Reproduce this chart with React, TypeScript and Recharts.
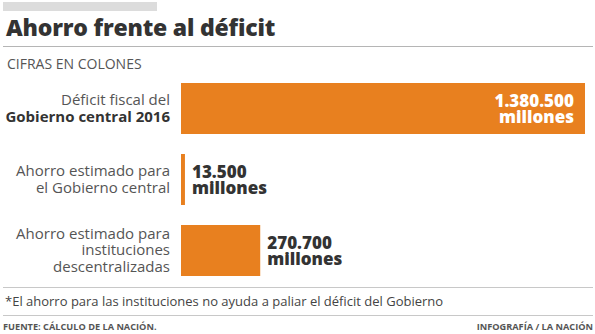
import { Bar, BarChart, Cell, LabelList, XAxis, YAxis } from 'recharts';

const categories = ['deficit', 'ahorroGobierno', 'ahorroInstituciones'];
const values = [1380500, 13500, 270700];
const valueLabels = ['1.380.500', '13.500', '270.700'];
const categoryLines = [
  ['Déficit fiscal del', 'Gobierno central 2016'],
  ['Ahorro estimado para', 'el Gobierno central'],
  ['Ahorro estimado para', 'instituciones', 'descentralizadas'],
];
const boldLines = [[false, true], [false, false], [false, false, false]];

const FONT = '"Open Sans", "DejaVu Sans", sans-serif';
const ORANGE = '#E8801F';
const DARK = '#333333';

const data = categories.map((key, i) => ({
  key,
  value: values[i],
  label: valueLabels[i],
}));

function CategoryTick({ x, y, payload }: any) {
  const idx = categories.indexOf(payload.value);
  const lines = categoryLines[idx] ?? [];
  const start = -3.5 - (lines.length - 2) * 8.25;
  return (
    <g>
      {lines.map((line, i) => (
        <text
          key={line}
          x={x}
          y={y + start + i * 16.5}
          textAnchor="end"
          fontFamily={FONT}
          fontSize={15}
          fontWeight={boldLines[idx][i] ? 700 : 400}
          fill={boldLines[idx][i] ? DARK : '#555'}
        >
          {line}
        </text>
      ))}
    </g>
  );
}

function ValueLabel(props: any) {
  const { x, y, width, height, index } = props;
  const item = data[index];
  const inside = index === 0;
  const tx = inside ? x + width - 11 : x + width + 7;
  const cy = y + height / 2;
  return (
    <text
      x={tx}
      y={cy - 2}
      textAnchor={inside ? 'end' : 'start'}
      fontFamily={FONT}
      fontSize={17}
      fontWeight={800}
      fill={inside ? '#fff' : DARK}
    >
      <tspan x={tx} dy={0}>
        {item.label}
      </tspan>
      <tspan x={tx} dy={16}>
        millones
      </tspan>
    </text>
  );
}

export default function App() {
  return (
    <div
      style={{
        position: 'absolute',
        left: 0,
        top: 0,
        width: 595,
        height: 334,
        background: '#fff',
        fontFamily: FONT,
        overflow: 'hidden',
      }}
    >
      <div
        style={{
          position: 'absolute',
          left: 3,
          top: 2,
          width: 154,
          height: 9,
          background: '#dcdcdc',
        }}
      />
      <div
        style={{
          position: 'absolute',
          left: 6,
          top: 12,
          fontSize: 23,
          lineHeight: '31px',
          fontWeight: 800,
          color: DARK,
          letterSpacing: -0.2,
          whiteSpace: 'nowrap',
        }}
      >
        Ahorro frente al déficit
      </div>
      <div
        style={{
          position: 'absolute',
          left: 3,
          top: 46,
          width: 590,
          height: 1,
          background: '#b5b5b5',
        }}
      />
      <div
        style={{
          position: 'absolute',
          left: 7,
          top: 54,
          fontSize: 14,
          color: '#555',
          whiteSpace: 'nowrap',
        }}
      >
        CIFRAS EN COLONES
      </div>

      <div style={{ position: 'absolute', left: 0, top: 73 }}>
        <BarChart
          width={595}
          height={213}
          data={data}
          layout="vertical"
          margin={{ top: 0, right: 10, bottom: 0, left: 0 }}
          barCategoryGap={10}
        >
          <XAxis type="number" hide domain={[0, 1380500]} />
          <YAxis
            type="category"
            dataKey="key"
            width={181}
            axisLine={false}
            tickLine={false}
            tickMargin={5}
            tick={<CategoryTick />}
            interval={0}
          />
          <Bar dataKey="value" barSize={51} isAnimationActive={false}>
            {data.map((d) => (
              <Cell key={d.key} fill={ORANGE} />
            ))}
            <LabelList dataKey="value" content={<ValueLabel />} />
          </Bar>
        </BarChart>
      </div>

      <div
        style={{
          position: 'absolute',
          left: 3,
          top: 287,
          width: 590,
          height: 1,
          background: '#c8c8c8',
        }}
      />
      <div
        style={{
          position: 'absolute',
          left: 5,
          top: 292,
          fontSize: 13,
          color: '#444',
          whiteSpace: 'nowrap',
        }}
      >
        *El ahorro para las instituciones no ayuda a paliar el déficit del Gobierno
      </div>
      <div
        style={{
          position: 'absolute',
          left: 3,
          top: 315,
          width: 590,
          height: 1,
          background: '#c8c8c8',
        }}
      />
      <div
        style={{
          position: 'absolute',
          left: 3,
          top: 320,
          fontSize: 9.2,
          fontWeight: 700,
          color: '#555',
          whiteSpace: 'nowrap',
        }}
      >
        FUENTE: CÁLCULO DE LA NACIÓN.
      </div>
      <div
        style={{
          position: 'absolute',
          right: 2,
          top: 320,
          fontSize: 9.2,
          fontWeight: 700,
          color: '#555',
          whiteSpace: 'nowrap',
        }}
      >
        INFOGRAFÍA / LA NACIÓN
      </div>
    </div>
  );
}
